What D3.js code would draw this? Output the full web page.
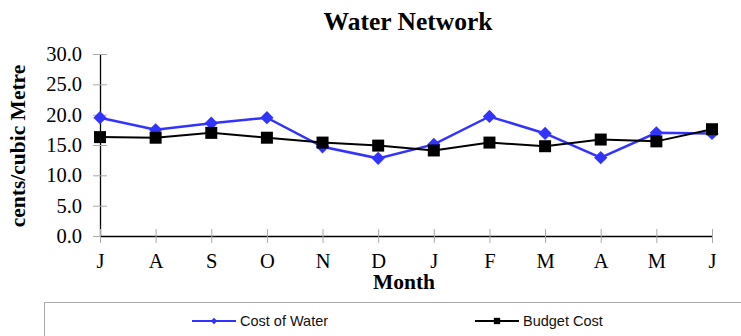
<!DOCTYPE html>
<html>
<head>
<meta charset="utf-8">
<script src="https://cdn.jsdelivr.net/npm/d3@7/dist/d3.min.js"></script>
<style>
  html, body { margin: 0; padding: 0; background: #fff; }
  svg { display: block; }
</style>
</head>
<body>
<svg id="chart" width="741" height="336"></svg>
<script>
// Monthly water cost vs budget (cents per cubic metre)
const months = ["J", "A", "S", "O", "N", "D", "J", "F", "M", "A", "M", "J"];
const costOfWater = [19.5, 17.5, 18.6, 19.5, 14.7, 12.8, 15.1, 19.7, 16.9, 12.9, 17.0, 16.9];
const budgetCost  = [16.3, 16.2, 17.0, 16.2, 15.4, 14.9, 14.1, 15.4, 14.8, 15.9, 15.6, 17.6];
const yTicks = [0, 5, 10, 15, 20, 25, 30];

const svg = d3.select("#chart");
const serif = "'Liberation Serif', 'Times New Roman', serif";
const sans = "'Liberation Sans', Arial, sans-serif";

const plot = { left: 100, right: 712, top: 54, bottom: 236 };

const x = d3.scalePoint().domain(d3.range(months.length)).range([plot.left, plot.right]);
const y = d3.scaleLinear().domain([0, 30]).range([plot.bottom, plot.top]);

// Title
svg.append("text")
  .attr("x", 408).attr("y", 30)
  .attr("text-anchor", "middle")
  .attr("font-family", serif).attr("font-weight", "bold").attr("font-size", 25.5)
  .text("Water Network");

// Y axis
const yAxis = svg.append("g").attr("transform", `translate(${plot.left},0)`)
  .attr("font-family", serif)
  .call(d3.axisLeft(y).tickValues(yTicks).tickFormat(d3.format(".1f")).tickSize(0).tickPadding(18));
yAxis.attr("font-family", serif);
yAxis.select(".domain").attr("stroke", "#000").attr("stroke-width", 1.3);
yAxis.selectAll(".tick text")
  .attr("font-family", serif).attr("font-size", 20.5).attr("fill", "#000");
yAxis.selectAll(".tick").append("line")
  .attr("x1", -7).attr("x2", 7).attr("stroke", "#aaa").attr("stroke-width", 1);

// X axis
const xAxis = svg.append("g").attr("transform", `translate(0,${plot.bottom})`)
  .call(d3.axisBottom(x).tickFormat(i => months[i]).tickSize(0).tickPadding(17));
xAxis.attr("font-family", serif);
xAxis.select(".domain").attr("stroke", "#000").attr("stroke-width", 1.3);
xAxis.selectAll(".tick text")
  .attr("font-family", serif).attr("font-size", 20.5).attr("fill", "#000");
xAxis.selectAll(".tick").append("line")
  .attr("y1", -7).attr("y2", 7).attr("stroke", "#aaa").attr("stroke-width", 1);

// Axis titles
svg.append("text")
  .attr("x", 404).attr("y", 289)
  .attr("text-anchor", "middle")
  .attr("font-family", serif).attr("font-weight", "bold").attr("font-size", 21.5)
  .text("Month");

svg.append("text")
  .attr("transform", "translate(25,146) rotate(-90)")
  .attr("text-anchor", "middle")
  .attr("font-family", serif).attr("font-weight", "bold").attr("font-size", 21.5)
  .text("cents/cubic Metre");

// Series
const line = d3.line().x((d, i) => x(i)).y(d => y(d));
const diamond = d3.symbol().type(d3.symbolSquare).size(88);
const square = d3.symbol().type(d3.symbolSquare).size(144);

svg.append("path").datum(costOfWater)
  .attr("d", line).attr("fill", "none").attr("stroke", "#3333ff").attr("stroke-width", 2.5);
svg.append("g").selectAll("path").data(costOfWater).join("path")
  .attr("transform", (d, i) => `translate(${x(i)},${y(d)}) rotate(45)`)
  .attr("d", diamond).attr("fill", "#3333ff");

svg.append("path").datum(budgetCost)
  .attr("d", line).attr("fill", "none").attr("stroke", "#000").attr("stroke-width", 2);
svg.append("g").selectAll("path").data(budgetCost).join("path")
  .attr("transform", (d, i) => `translate(${x(i)},${y(d)})`)
  .attr("d", square).attr("fill", "#000");

// Legend
svg.append("rect")
  .attr("x", 44.5).attr("y", 302.5).attr("width", 720).attr("height", 60)
  .attr("fill", "none").attr("stroke", "#aaa").attr("stroke-width", 1);

const legendItems = [
  { label: "Cost of Water", color: "#3333ff", symbol: d3.symbol().type(d3.symbolSquare).size(22), rot: 45, x0: 192 },
  { label: "Budget Cost", color: "#000", symbol: d3.symbol().type(d3.symbolSquare).size(40), rot: 0, x0: 475 }
];
const lg = svg.append("g").selectAll("g").data(legendItems).join("g")
  .attr("transform", d => `translate(${d.x0},321)`);
lg.append("line").attr("x1", 0).attr("x2", 44)
  .attr("stroke", d => d.color).attr("stroke-width", 2.2);
lg.append("path").attr("transform", d => `translate(22,0) rotate(${d.rot})`)
  .attr("d", d => d.symbol()).attr("fill", d => d.color);
lg.append("text").attr("x", 48).attr("y", 5)
  .attr("font-family", sans).attr("font-size", 14.5).attr("fill", "#111")
  .text(d => d.label);
</script>
</body>
</html>
